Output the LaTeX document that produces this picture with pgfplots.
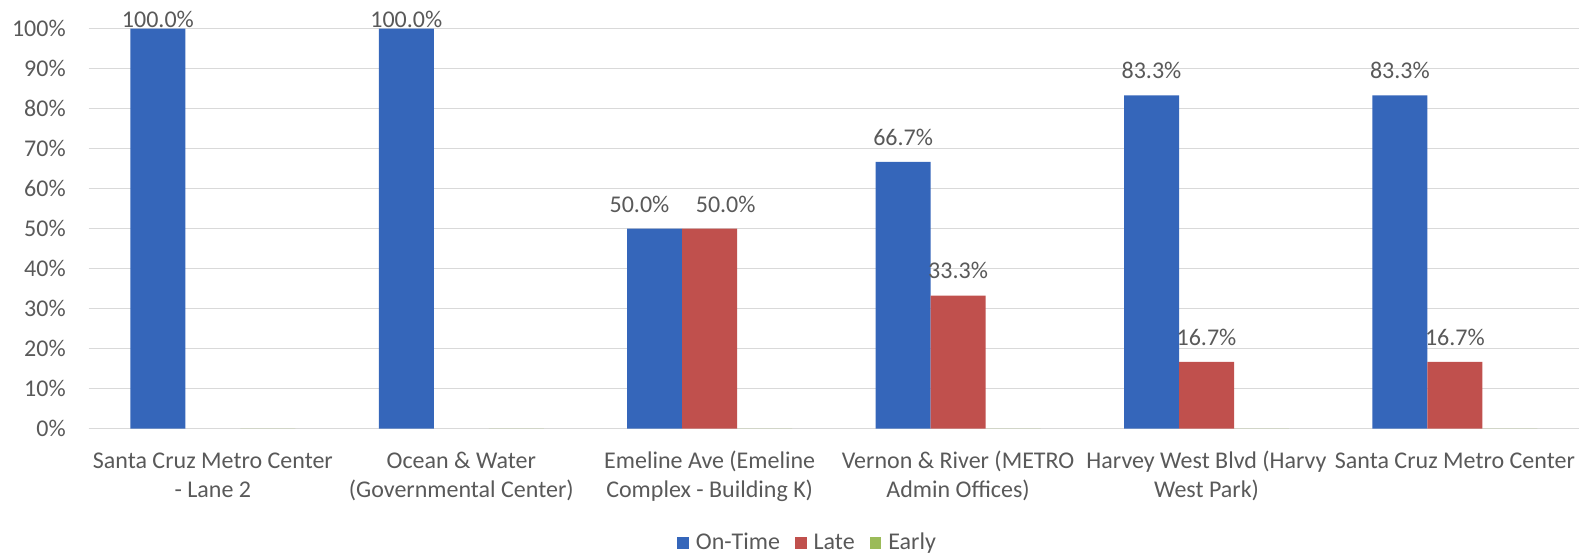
\documentclass[border=0pt]{standalone}
\usepackage{pgfplots}
\pgfplotsset{compat=1.18}
\usepackage{fontspec}
\setmainfont{Carlito}
\definecolor{ontime}{HTML}{3566BA}
\definecolor{late}{HTML}{C0504D}
\definecolor{early}{HTML}{9BBB59}
\definecolor{txt}{HTML}{595959}
\definecolor{gridc}{HTML}{D9D9D9}
\begin{document}
\fontsize{12}{14.2}\selectfont
\begin{tikzpicture}
\useasboundingbox (-44.35pt,-64.15pt) rectangle (750.15pt,214.35pt);
\begin{axis}[
  at={(0pt,0pt)}, anchor=south west,
  scale only axis, width=745.2pt, height=200pt,
  ybar, bar width=0.2214,
  xmin=-0.5, xmax=5.5, ymin=0, ymax=100,
  xtick={0,1,2,3,4,5},
  xticklabels={{\strut Santa Cruz Metro Center\\- Lane 2},{\strut Ocean \& Water\\(Governmental Center)},{\strut Emeline Ave (Emeline\\Complex - Building K)},{\strut Vernon \& River (METRO\\Admin Offices)},{\strut Harvey West Blvd (Harvy\\West Park)},{\strut Santa Cruz Metro Center}},
  ytick={0,10,...,100},
  yticklabels={0\%,10\%,20\%,30\%,40\%,50\%,60\%,70\%,80\%,90\%,100\%},
  major tick length=0pt,
  xmajorgrids=false, ymajorgrids=true,
  y grid style={gridc, line width=0.6pt},
  axis lines*=left,
  x axis line style={gridc, line width=0.6pt, -},
  y axis line style={draw=none},
  tick label style={font=\fontsize{12}{14.2}\selectfont, text=txt},
  xticklabel style={align=center, anchor=north, yshift=-10pt, inner sep=0pt},
  yticklabel style={anchor=east, inner sep=0pt, xshift=-11.3pt},
  clip=false,
  legend style={at={(0.483,-0.286)}, anchor=center, draw=none, fill=none,
    legend columns=-1, font=\fontsize{12}{14.2}\selectfont, text=txt,
    /tikz/every odd column/.append style={column sep=1.5pt},
    /tikz/every even column/.append style={column sep=5.5pt}},
  legend image code/.code={\fill[#1] (0pt,-2.9pt) rectangle (5.8pt,2.9pt);},
  legend cell align=left,
  visualization depends on={y \as \yval},
  visualization depends on={x \as \xval},
  every node near coord/.append style={font=\fontsize{12}{14.2}\selectfont, text=txt, anchor=center, inner sep=0pt,
     yshift={ifthenelse(\yval>99,4.8,12.3)*1pt}},
]
\addplot[fill=ontime, draw=none, bar shift=-0.2214,
  every node near coord/.append style={xshift={ifthenelse(abs(\xval-2)<0.1,-7.6,0)*1pt}},
  nodes near coords={\pgfmathprintnumber[fixed,fixed zerofill,precision=1,assume math mode=true]{\pgfplotspointmeta}\%}]
  coordinates {(0,100) (1,100) (2,50) (3,66.7) (4,83.3) (5,83.3)};
\addlegendentry{On-Time}
\addplot[fill=late, draw=none, bar shift=0,
  every node near coord/.append style={xshift={ifthenelse(abs(\xval-2)<0.1,8,0)*1pt}},
  nodes near coords={\pgfmathprintnumber[fixed,fixed zerofill,precision=1,assume math mode=true]{\pgfplotspointmeta}\%}]
  coordinates {(2,50) (3,33.3) (4,16.7) (5,16.7)};
\addlegendentry{Late}
\addplot[fill=early, draw=none, bar shift=0.2214]
  coordinates {(0,0) (1,0) (2,0) (3,0) (4,0) (5,0)};
\addlegendentry{Early}
\end{axis}
\end{tikzpicture}
\end{document}
